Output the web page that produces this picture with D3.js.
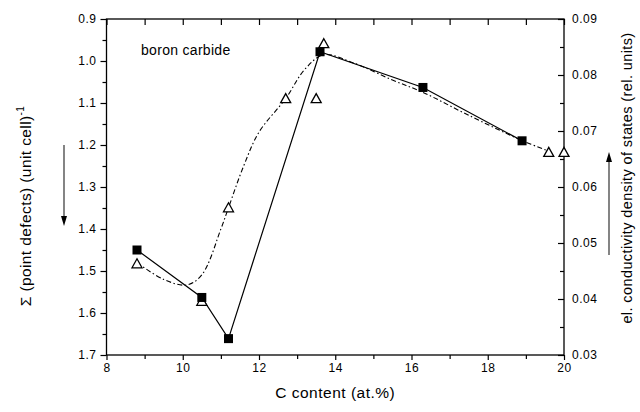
<!DOCTYPE html>
<html><head><meta charset="utf-8">
<script src="https://cdn.jsdelivr.net/npm/d3@7"></script>
<style>body{margin:0;background:#fff}svg{display:block}text{font-family:"Liberation Sans",Arial,sans-serif;fill:#000}</style>
</head><body><svg id="c" width="640" height="412"></svg>
<script>
// data
const sqX = [8.8, 10.5, 11.2, 13.6, 16.3, 18.9];
const sqY = [1.45, 1.563, 1.661, 0.978, 1.063, 1.19];           // left axis (Σ point defects)
const triX = [8.8, 10.5, 11.2, 12.7, 13.5, 13.7, 19.6, 20.0];
const triY = [0.0462, 0.0395, 0.0562, 0.0757, 0.0757, 0.0855, 0.0661, 0.0661]; // right axis
const fitX = [8.8, 9.5, 10.1, 10.5, 11.0, 11.2, 11.6, 12.0, 12.7, 13.2, 13.7, 14.5, 15.5, 16.3, 17.5, 18.9, 19.6];
const fitY = [0.0465, 0.0435, 0.0425, 0.0443, 0.0525, 0.0563, 0.0638, 0.0698, 0.0758, 0.081, 0.0836, 0.0821, 0.0791, 0.0769, 0.0728, 0.0683, 0.0664];
const xTicks = [8, 10, 12, 14, 16, 18, 20];
const leftTicks = [0.9, 1.0, 1.1, 1.2, 1.3, 1.4, 1.5, 1.6, 1.7];
const rightTicks = [0.03, 0.04, 0.05, 0.06, 0.07, 0.08, 0.09];

const L = 106.5, R = 564, T = 19, B = 355;
const svg = d3.select("#c");
const x = d3.scaleLinear().domain([8, 20]).range([L, R]);
const yL = d3.scaleLinear().domain([0.9, 1.7]).range([T, B]);
const yR = d3.scaleLinear().domain([0.03, 0.09]).range([B, T]);

function styleAxis(g){ g.select(".domain").remove(); g.selectAll("line").attr("stroke","#000").attr("stroke-width",1.2); g.selectAll("text").attr("font-size","12px").attr("font-family","Liberation Sans, Arial, sans-serif").attr("letter-spacing","0.5px"); }

// bottom
svg.append("g").attr("transform",`translate(0,${B})`).call(d3.axisBottom(x).tickValues(d3.range(9,20,2)).tickSize(4).tickFormat("")).call(styleAxis);
svg.append("g").attr("transform",`translate(0,${B})`).call(d3.axisBottom(x).tickValues(xTicks).tickSize(5).tickPadding(3).tickFormat(d3.format("d"))).call(styleAxis);
// top (inward)
svg.append("g").attr("transform",`translate(0,${T})`).call(d3.axisBottom(x).tickValues(d3.range(8,21,1)).tickSize(6).tickFormat("")).call(styleAxis);
// left
svg.append("g").attr("transform",`translate(${L},0)`).call(d3.axisLeft(yL).tickValues(d3.range(0,8).map(i=>0.95+i*0.1)).tickSize(4).tickFormat("")).call(styleAxis);
svg.append("g").attr("transform",`translate(${L},0)`).call(d3.axisLeft(yL).tickValues(leftTicks).tickSize(6).tickPadding(4).tickFormat(d3.format(".1f"))).call(styleAxis);
// right (inward ticks)
svg.append("g").attr("transform",`translate(${R},0)`).call(d3.axisLeft(yR).tickValues(d3.range(0,6).map(i=>0.035+i*0.01)).tickSize(4).tickFormat("")).call(styleAxis);
const ra = svg.append("g").attr("transform",`translate(${R},0)`).call(d3.axisLeft(yR).tickValues(rightTicks).tickSize(6).tickFormat(d3.format(".2f"))).call(styleAxis);
ra.selectAll("text").attr("x",8).attr("text-anchor","start");

// frame
svg.append("rect").attr("x",L).attr("y",T).attr("width",R-L).attr("height",B-T).attr("fill","none").attr("stroke","#000").attr("stroke-width",1.3);

// fit curve (dash-dot)
const fit = fitX.map((v,i)=>[v,fitY[i]]);
svg.append("path").datum(fit).attr("fill","none").attr("stroke","#000").attr("stroke-width",1.1)
  .attr("stroke-dasharray","5,2.5,1.5,2.5")
  .attr("d", d3.line().x(d=>x(d[0])).y(d=>yR(d[1])).curve(d3.curveCatmullRom.alpha(0.5)));

// solid line through squares
const sq = sqX.map((v,i)=>[v,sqY[i]]);
svg.append("path").datum(sq).attr("fill","none").attr("stroke","#000").attr("stroke-width",1.2)
  .attr("d", d3.line().x(d=>x(d[0])).y(d=>yL(d[1])));

// triangles
const tri = triX.map((v,i)=>[v,triY[i]]);
svg.selectAll(".tri").data(tri).enter().append("path").attr("class","tri")
  .attr("transform",d=>`translate(${x(d[0])},${yR(d[1])})`)
  .attr("d","M0,-5.5L5,3.5L-5,3.5Z").attr("fill","#fff").attr("stroke","#000").attr("stroke-width",1.3);

// squares
svg.selectAll(".sq").data(sq).enter().append("rect").attr("class","sq")
  .attr("x",d=>x(d[0])-4.5).attr("y",d=>yL(d[1])-4.5).attr("width",9).attr("height",9).attr("fill","#000");

// labels
svg.append("text").attr("x",141).attr("y",55).attr("font-size","14px").attr("letter-spacing","0.3px").text("boron carbide");
svg.append("text").attr("x",(L+R)/2).attr("y",398).attr("text-anchor","middle").attr("font-size","15.5px").attr("letter-spacing","0.5px").text("C content (at.%)");
const lt = svg.append("text").attr("transform","translate(31,206) rotate(-90)").attr("text-anchor","middle").attr("font-size","15.5px").attr("letter-spacing","0.4px");
lt.append("tspan").text("Σ (point defects) (unit cell)");
lt.append("tspan").attr("dy",-7).attr("font-size","10px").text("-1");
svg.append("text").attr("transform","translate(632,178) rotate(-90)").attr("text-anchor","middle").attr("font-size","14.5px").attr("letter-spacing","0.4px").text("el. conductivity density of states (rel. units)");

// arrows
svg.append("line").attr("x1",64).attr("x2",64).attr("y1",145).attr("y2",218).attr("stroke","#333").attr("stroke-width",1.2);
svg.append("path").attr("d","M61,216L67,216L64,226Z").attr("fill","#000");
svg.append("line").attr("x1",609).attr("x2",609).attr("y1",255).attr("y2",160).attr("stroke","#333").attr("stroke-width",1.2);
svg.append("path").attr("d","M606,162L612,162L609,152Z").attr("fill","#000");
</script></body></html>
